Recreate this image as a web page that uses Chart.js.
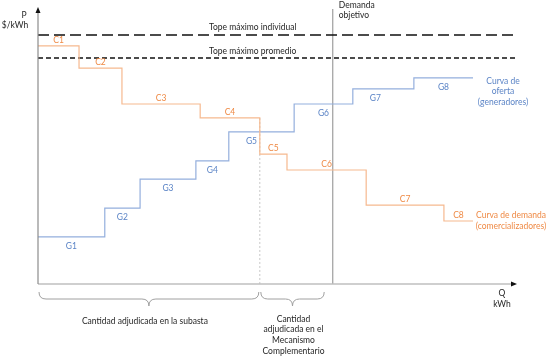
<!DOCTYPE html>
<html lang="es">
<head>
<meta charset="UTF-8" />
<title>Subasta - curvas de oferta y demanda</title>
<script src="https://cdn.jsdelivr.net/npm/chart.js"></script>
<style>
  html, body { margin: 0; padding: 0; background: #fff; }
  #wrap { width: 551px; height: 359px; }
</style>
</head>
<body>
<div id="wrap"><canvas id="chart" width="551" height="359"></canvas></div>
<script>
// Demand blocks (comercializadores): cumulative Q at end of each block, price
const demandLabels = ["C1", "C2", "C3", "C4", "C5", "C6", "C7", "C8"];
const demandQEnd   = [8.6, 17.6, 34.0, 46.5, 52.2, 68.8, 85.1, 91.2];
const demandPrice  = [86.9, 78.8, 65.7, 60.6, 47.4, 41.6, 28.8, 23.0];

// Supply blocks (generadores)
const supplyLabels = ["G1", "G2", "G3", "G4", "G5", "G6", "G7", "G8"];
const supplyQEnd   = [14.0, 21.4, 33.1, 40.0, 53.7, 66.0, 78.8, 91.2];
const supplyPrice  = [17.2, 27.7, 38.3, 44.9, 55.5, 65.7, 71.2, 75.2];

// Reference lines
const topeIndividual = 90.9;
const topePromedio = 82.5;
const demandaObjetivo = 61.8;
const subastaQ = 46.5;       // cantidad adjudicada en la subasta
const complementarioQ = 60.0; // end of the complementary brace

const ORANGE_LINE = "#f6b98f";
const ORANGE_TEXT = "#ef8a45";
const BLUE_LINE = "#94afdd";
const BLUE_TEXT = "#5b84c6";
const FONT = "Lato, 'Open Sans', sans-serif";

function stepPoints(ends, prices) {
  const pts = [];
  let start = 0;
  ends.forEach((end, i) => {
    pts.push({ x: start, y: prices[i] });
    pts.push({ x: end, y: prices[i] });
    start = end;
  });
  return pts;
}

function arrowHead(ctx, x, y, dir) {
  ctx.beginPath();
  if (dir === "up") {
    ctx.moveTo(x, y - 4); ctx.lineTo(x - 2.5, y + 2); ctx.lineTo(x + 2.5, y + 2);
  } else {
    ctx.moveTo(x + 4, y); ctx.lineTo(x - 2, y - 2.5); ctx.lineTo(x - 2, y + 2.5);
  }
  ctx.closePath();
  ctx.fill();
}

function brace(ctx, x1, x2, y) {
  const mid = (x1 + x2) / 2;
  const r = 7;
  ctx.beginPath();
  ctx.moveTo(x1, y);
  ctx.quadraticCurveTo(x1, y + r, x1 + r, y + r);
  ctx.lineTo(mid - r, y + r);
  ctx.quadraticCurveTo(mid, y + r, mid, y + 2 * r);
  ctx.quadraticCurveTo(mid, y + r, mid + r, y + r);
  ctx.lineTo(x2 - r, y + r);
  ctx.quadraticCurveTo(x2, y + r, x2, y);
  ctx.stroke();
}

const diagramPlugin = {
  id: "diagram",
  beforeDatasetsDraw(chart) {
    const { ctx, chartArea: a, scales: { x, y } } = chart;
    ctx.save();
    // dotted line at end of the auction quantity
    ctx.strokeStyle = "#c8c8c8";
    ctx.lineWidth = 1;
    ctx.setLineDash([2, 2]);
    ctx.beginPath();
    ctx.moveTo(x.getPixelForValue(subastaQ), y.getPixelForValue(demandPrice[3]));
    ctx.lineTo(x.getPixelForValue(subastaQ), a.bottom);
    ctx.stroke();
    ctx.setLineDash([]);
    // Demanda objetivo line
    ctx.strokeStyle = "#8a8a8a";
    ctx.beginPath();
    ctx.moveTo(x.getPixelForValue(demandaObjetivo), a.top - 1);
    ctx.lineTo(x.getPixelForValue(demandaObjetivo), a.bottom);
    ctx.stroke();
    ctx.restore();
  },
  afterDatasetsDraw(chart) {
    const { ctx, chartArea: a, scales: { x, y } } = chart;
    ctx.save();
    // axes
    ctx.lineWidth = 1.5;
    ctx.strokeStyle = "#bfbfbf";
    ctx.beginPath();
    ctx.moveTo(a.left, a.bottom);
    ctx.lineTo(a.right - 2, a.bottom);
    ctx.stroke();
    ctx.strokeStyle = "#8c8c8c";
    ctx.lineWidth = 1.2;
    ctx.beginPath();
    ctx.moveTo(a.left, a.bottom);
    ctx.lineTo(a.left, a.top + 2);
    ctx.stroke();
    ctx.fillStyle = "#111";
    arrowHead(ctx, a.left, a.top + 1, "up");
    arrowHead(ctx, a.right - 2, a.bottom, "right");

    // block labels
    ctx.font = "8.5px " + FONT;
    ctx.textAlign = "center";
    ctx.textBaseline = "middle";
    ctx.fillStyle = ORANGE_TEXT;
    let start = 0;
    demandLabels.forEach((lab, i) => {
      const px = x.getPixelForValue((start + demandQEnd[i]) / 2);
      ctx.fillText(lab, px, y.getPixelForValue(demandPrice[i]) - 6);
      start = demandQEnd[i];
    });
    ctx.fillStyle = BLUE_TEXT;
    start = 0;
    supplyLabels.forEach((lab, i) => {
      let px = x.getPixelForValue((start + supplyQEnd[i]) / 2);
      if (lab === "G5") px -= 10; // keep clear of the dotted line
      if (lab === "G7") px -= 8;
      ctx.fillText(lab, px, y.getPixelForValue(supplyPrice[i]) + 9);
      start = supplyQEnd[i];
    });

    // curve names
    ctx.fillStyle = BLUE_TEXT;
    ["Curva de", "oferta", "(generadores)"].forEach((t, i) => ctx.fillText(t, 503, 81 + i * 10.5));
    ctx.fillStyle = ORANGE_TEXT;
    ["Curva de demanda", "(comercializadores)"].forEach((t, i) => ctx.fillText(t, 511, 215 + i * 11));

    // dark texts
    ctx.fillStyle = "#262626";
    ctx.textAlign = "left";
    ctx.fillText("Tope máximo individual", 209, y.getPixelForValue(topeIndividual) - 8);
    ctx.fillText("Tope máximo promedio", 209, y.getPixelForValue(topePromedio) - 7);
    const dx = x.getPixelForValue(demandaObjetivo) + 6;
    ctx.fillText("Demanda", dx, 5);
    ctx.fillText("objetivo", dx, 15);
    ctx.textAlign = "center";
    ctx.fillText("P", 24, 15);
    ctx.fillText("$/kWh", 15, 25);
    ctx.fillText("Q", 502, 293);
    ctx.fillText("kWh", 502, 304);

    // braces under the x axis
    ctx.strokeStyle = "#a0a0a0";
    ctx.lineWidth = 1;
    const b0 = x.getPixelForValue(0) + 1;
    const b1 = x.getPixelForValue(subastaQ) - 1;
    const b2 = x.getPixelForValue(subastaQ) + 1;
    const b3 = x.getPixelForValue(complementarioQ);
    brace(ctx, b0, b1, a.bottom + 8);
    brace(ctx, b2, b3, a.bottom + 8);
    ctx.fillStyle = "#262626";
    ctx.fillText("Cantidad adjudicada en la subasta", (b0 + b1) / 2 - 4, 321);
    ["Cantidad", "adjudicada en el", "Mecanismo", "Complementario"].forEach((t, i) =>
      ctx.fillText(t, (b2 + b3) / 2 + 1, 319 + i * 10.7));
    ctx.restore();
  }
};

new Chart(document.getElementById("chart"), {
  type: "scatter",
  data: {
    datasets: [
      { label: "Curva de demanda", data: stepPoints(demandQEnd, demandPrice),
        showLine: true, borderColor: ORANGE_LINE, borderWidth: 1.2, pointRadius: 0 },
      { label: "Curva de oferta", data: stepPoints(supplyQEnd, supplyPrice),
        showLine: true, borderColor: BLUE_LINE, borderWidth: 1.2, pointRadius: 0 },
      { label: "Tope máximo individual", data: [{ x: 0, y: topeIndividual }, { x: 100, y: topeIndividual }],
        showLine: true, borderColor: "#111", borderWidth: 1.5, borderDash: [11, 5], pointRadius: 0 },
      { label: "Tope máximo promedio", data: [{ x: 0, y: topePromedio }, { x: 100, y: topePromedio }],
        showLine: true, borderColor: "#111", borderWidth: 1.5, borderDash: [5, 3], pointRadius: 0 }
    ]
  },
  options: {
    responsive: false,
    animation: false,
    layout: { padding: { left: 38, top: 10, right: 36, bottom: 75 } },
    plugins: { legend: { display: false }, tooltip: { enabled: false } },
    scales: {
      x: { type: "linear", min: 0, max: 100, display: false },
      y: { type: "linear", min: 0, max: 100, display: false }
    }
  },
  plugins: [diagramPlugin]
});
</script>
</body>
</html>
